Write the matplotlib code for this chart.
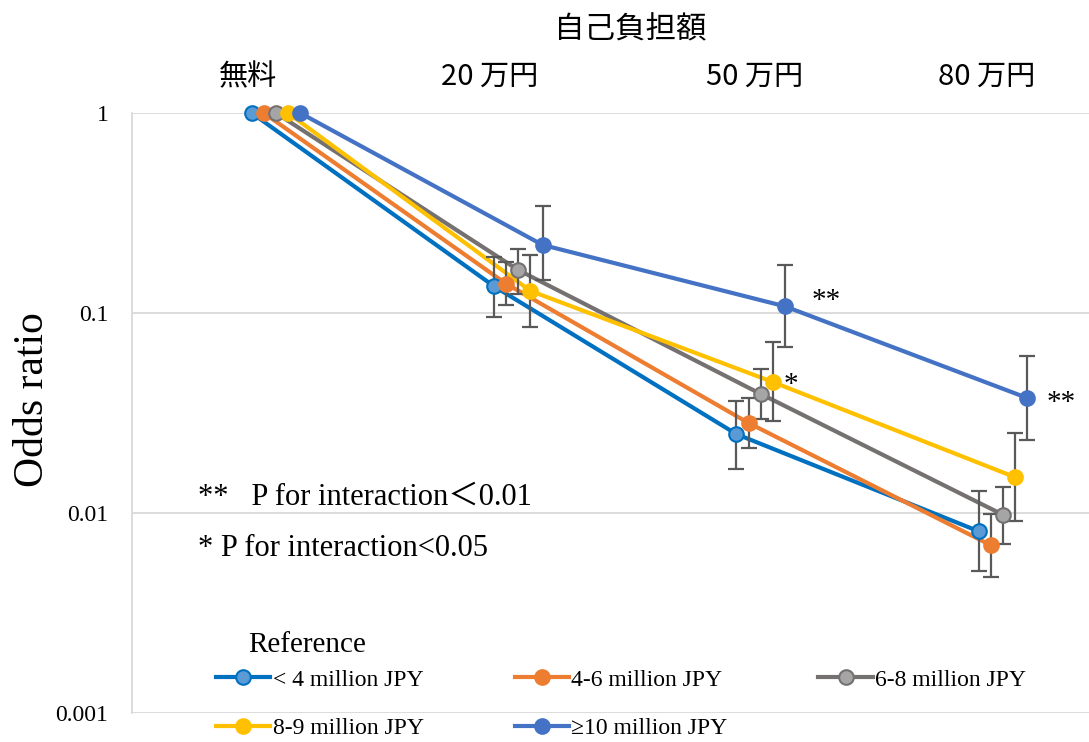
import matplotlib
matplotlib.use("Agg")
import matplotlib.pyplot as plt
from matplotlib.lines import Line2D
import numpy as np

# Cost-sharing categories (top axis)
categories = ["無料", "20 万円", "50 万円", "80 万円"]
axis_title = "自己負担額"

# Income groups
groups = ["< 4 million JPY", "4-6 million JPY", "6-8 million JPY",
          "8-9 million JPY", "≥10 million JPY"]

# Odds ratios per group across categories
or_lt4 = [1.0, 0.136, 0.0248, 0.0081]
or_4_6 = [1.0, 0.140, 0.0282, 0.0069]
or_6_8 = [1.0, 0.164, 0.0394, 0.0098]
or_8_9 = [1.0, 0.129, 0.0452, 0.0151]
or_ge10 = [1.0, 0.219, 0.108, 0.0376]

# 95% CI lower / upper bounds (reference category has none)
lo_lt4 = [np.nan, 0.096, 0.0166, 0.0051]
hi_lt4 = [np.nan, 0.190, 0.0363, 0.0129]
lo_4_6 = [np.nan, 0.110, 0.0211, 0.0048]
hi_4_6 = [np.nan, 0.180, 0.0376, 0.0099]
lo_6_8 = [np.nan, 0.125, 0.0295, 0.0070]
hi_6_8 = [np.nan, 0.209, 0.0525, 0.0135]
lo_8_9 = [np.nan, 0.085, 0.0288, 0.0091]
hi_8_9 = [np.nan, 0.195, 0.0716, 0.0251]
lo_ge10 = [np.nan, 0.146, 0.0676, 0.0232]
hi_ge10 = [np.nan, 0.343, 0.174, 0.061]

values = [or_lt4, or_4_6, or_6_8, or_8_9, or_ge10]
lows = [lo_lt4, lo_4_6, lo_6_8, lo_8_9, lo_ge10]
highs = [hi_lt4, hi_4_6, hi_6_8, hi_8_9, hi_ge10]

line_colors = ["#0070C0", "#ED7D31", "#767171", "#FFC000", "#4472C4"]
face_colors = ["#5B9BD5", "#ED7D31", "#A5A5A5", "#FFC000", "#4472C4"]

serif = ["Liberation Serif", "DejaVu Serif"]
serif_cjk = ["Liberation Serif", "Noto Sans CJK JP"]
cjk = ["Noto Sans CJK JP", "DejaVu Sans"]

fig = plt.figure(figsize=(10.89, 7.42), dpi=100)
ax = fig.add_axes([132 / 1089, 1 - 713 / 742, (1089 - 132) / 1089, 600 / 742])

offsets = np.array([-2, -1, 0, 1, 2]) * 0.05
xbase = np.arange(len(categories))

for i, (vals, lo, hi) in enumerate(zip(values, lows, highs)):
    x = xbase + offsets[i]
    v = np.array(vals)
    lo = np.array(lo)
    hi = np.array(hi)
    ax.plot(x, v, color=line_colors[i], lw=3.0, zorder=2 + i * 0.01,
            solid_capstyle="round", clip_on=False)
    m = ~np.isnan(lo)
    ax.errorbar(x[m], v[m], yerr=[v[m] - lo[m], hi[m] - v[m]], fmt="none",
                ecolor="#595959", elinewidth=1.6, capsize=6, capthick=1.6,
                zorder=3)
    ax.plot(x, v, ls="none", marker="o", ms=10.5, mfc=face_colors[i],
            mec=line_colors[i], mew=1.5, zorder=4 + i * 0.01, clip_on=False)

ax.set_yscale("log")
ax.set_ylim(0.001, 1)
ax.set_xlim(-0.594, 3.355)
ax.set_xticks([])
ax.minorticks_off()
ax.set_yticks([0.001, 0.01, 0.1, 1])
ax.set_yticklabels(["0.001", "0.01", "0.1", "1"], fontfamily=serif, fontsize=17)
ax.tick_params(axis="y", length=0, pad=17)
ax.yaxis.grid(True, color="#D9D9D9", lw=1.3, zorder=0)
ax.set_axisbelow(True)
for s in ["top", "right", "bottom"]:
    ax.spines[s].set_visible(False)
ax.spines["left"].set_color("#D9D9D9")
ax.spines["left"].set_linewidth(1.3)

ax.set_ylabel("Odds ratio", fontfamily=serif, fontsize=30)
ax.yaxis.set_label_coords((52 - 132) / 957, (713 - 400) / 600)

# Significance marks
ax.text(xbase[2] + offsets[3] + 0.045, or_8_9[2] * 0.97, "*", fontfamily=serif,
        fontsize=21, va="center", ha="left")
ax.text(xbase[2] + offsets[4] + 0.11, or_ge10[2] * 1.06, "**", fontfamily=serif,
        fontsize=21, va="center", ha="left")
ax.text(xbase[3] + offsets[4] + 0.08, or_ge10[3] * 0.94, "**", fontfamily=serif,
        fontsize=21, va="center", ha="left")

fig.text(198 / 1089, 1 - 505 / 742, "**   P for interaction＜0.01",
         fontfamily=serif_cjk, fontsize=22, va="baseline", ha="left")
fig.text(198 / 1089, 1 - 556 / 742, "* P for interaction<0.05",
         fontfamily=serif, fontsize=22, va="baseline", ha="left")

# Top category labels and title
fig.text(630 / 1089, 1 - 30 / 742, axis_title, fontfamily=cjk, fontsize=22,
         ha="center", va="center")
label_x = [248, 490, 755, 987]
for lab, px in zip(categories, label_x):
    fig.text(px / 1089, 1 - 77 / 742, lab, fontfamily=cjk, fontsize=21,
             ha="center", va="center")

# Legend
fig.text(248 / 1089, 1 - 645 / 742, "Reference", fontfamily=serif, fontsize=21,
         ha="left", va="center")
handles = [Line2D([], [], color=line_colors[i], lw=3.0, marker="o", ms=10.5,
                  mfc=face_colors[i], mec=line_colors[i], mew=1.5)
           for i in range(len(groups))]
order = [0, 3, 1, 4, 2]
leg = fig.legend([handles[k] for k in order], [groups[k] for k in order],
                 ncol=3, loc="upper left",
                 bbox_to_anchor=(216 / 1089, 1 - 669 / 742),
                 frameon=False, prop={"family": serif, "size": 17},
                 handlelength=2.3, handletextpad=0.1, columnspacing=3.85,
                 labelspacing=1.15, borderpad=0, borderaxespad=0)

fig.savefig("out.png", dpi=100)
